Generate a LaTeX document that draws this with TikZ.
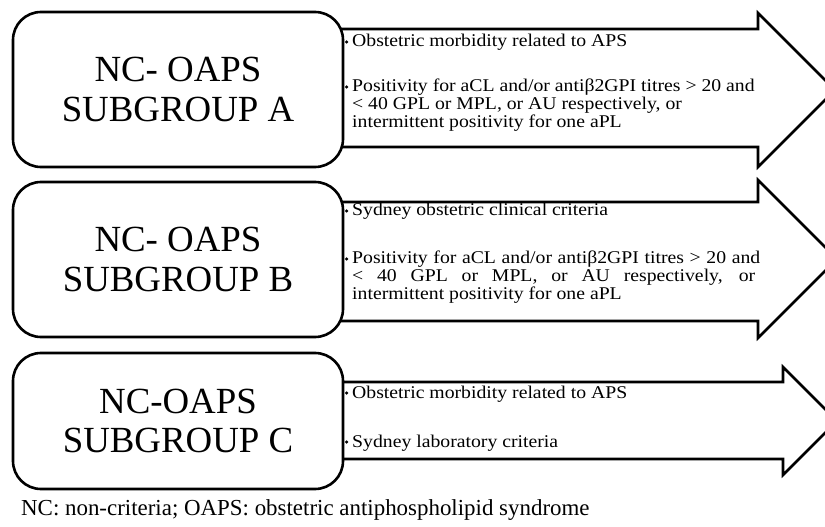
\documentclass[tikz,border=0pt]{standalone}
\usepackage{fontspec}
\setmainfont{Liberation Serif}
\newfontfamily\itemfont[FakeStretch=1.1]{Liberation Serif}
\begin{document}
\begin{tikzpicture}[x=1bp,y=-1bp,
  box/.style={draw, line width=2.6bp, fill=white, rounded corners=28bp,
    minimum width=330bp, inner sep=0, align=center,
    font=\fontsize{37}{40}\selectfont},
  arrowshape/.style={draw, line width=2.6bp, fill=white, line join=miter},
  item/.style={anchor=base west, inner sep=0, font=\itemfont\fontsize{18}{18}\selectfont},
  bul/.style={circle, fill=black, inner sep=0, minimum size=3.5bp},
  note/.style={anchor=base west, inner sep=0, font=\fontsize{23}{26}\selectfont}
]
\useasboundingbox (0,0) rectangle (825,527);
\clip (0,0) rectangle (825,527);
\fill[white] (0,0) rectangle (825,527);

% arrows
\draw[arrowshape] (320,29) -- (758,29) -- (758,13) -- (835,90) -- (758,167) -- (758,147) -- (320,147);
\draw[arrowshape] (320,202) -- (758,202) -- (758,180) -- (837,259) -- (758,338) -- (758,321) -- (320,321);
\draw[arrowshape] (320,382) -- (783,382) -- (783,367) -- (837,421) -- (783,475) -- (783,459) -- (320,459);

% boxes
\node[box, minimum height=155bp] (boxA) at (178,89.5) {NC- OAPS\\SUBGROUP A};
\node[box, minimum height=155bp] (boxB) at (178,259.5) {NC- OAPS\\SUBGROUP B};
\node[box, minimum height=136bp] (boxC) at (178,421) {NC-OAPS\\SUBGROUP C};

% arrow A text
\node[bul] (bA1) at (346.5,42) {};
\node[item] (a1) at (352,47) {Obstetric morbidity related to APS};
\node[bul] (bA2) at (346.5,87) {};
\node[item] (a2) at (352,92) {Positivity for aCL and/or antiβ2GPI titres > 20 and};
\node[item] (a3) at (352,110) {< 40 GPL or MPL, or AU respectively, or};
\node[item] (a4) at (352,128) {intermittent positivity for one aPL};

% arrow B text
\node[bul] (bB1) at (346.5,211) {};
\node[item] (b1) at (352,216) {Sydney obstetric clinical criteria};
\node[bul] (bB2) at (346.5,259) {};
\node[item] (b2) at (352,264) {\makebox[408bp][s]{Positivity for aCL and/or antiβ2GPI titres > 20 and}};
\node[item] (b3) at (352,282) {\makebox[403bp][s]{< 40 GPL or MPL, or AU respectively, or}};
\node[item] (b4) at (352,300) {intermittent positivity for one aPL};

% arrow C text
\node[bul] (bC1) at (346.5,393) {};
\node[item] (c1) at (352,398) {Obstetric morbidity related to APS};
\node[bul] (bC2) at (346.5,442) {};
\node[item] (c2) at (352,447) {Sydney laboratory criteria};

% footnote
\node[note] (fn) at (21,515) {NC: non-criteria; OAPS: obstetric antiphospholipid syndrome};
\end{tikzpicture}
\end{document}
